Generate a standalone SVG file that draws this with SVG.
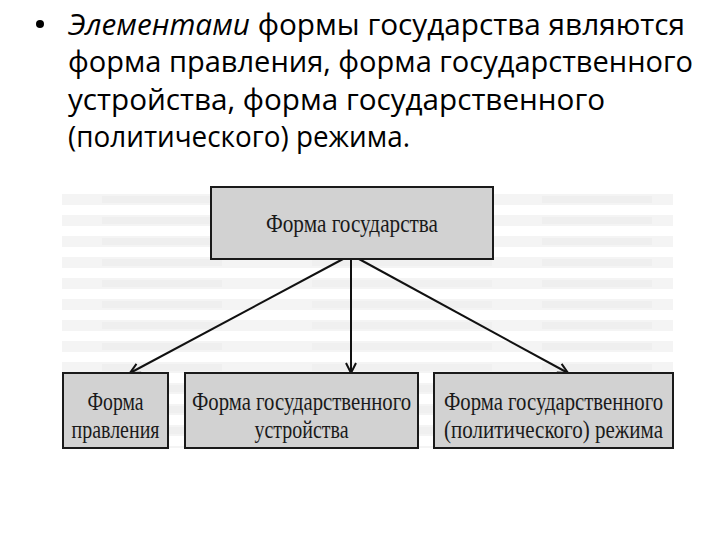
<svg xmlns="http://www.w3.org/2000/svg" width="720" height="540" viewBox="0 0 720 540">
  <defs>
    <pattern id="scan" x="62" y="190" width="611" height="21" patternUnits="userSpaceOnUse">
      <rect x="0" y="4" width="611" height="11" fill="#f4f4f4"/>
      <rect x="40" y="6" width="120" height="7" fill="#efefef"/>
      <rect x="250" y="6" width="180" height="7" fill="#f0f0f0"/>
      <rect x="480" y="6" width="110" height="7" fill="#efefef"/>
    </pattern>
    <marker id="arr" viewBox="0 0 12 12" refX="11" refY="6" markerWidth="12" markerHeight="12" markerUnits="userSpaceOnUse" orient="auto">
      <path d="M1,1 L11,6 L1,11" fill="none" stroke="#111" stroke-width="2"/>
    </marker>
    <style>
      .bul { font-family: "Open Sans", "Liberation Sans", sans-serif; font-size: 29px; fill: #000; }
      .box { fill: #d2d2d2; stroke: #1a1a1a; stroke-width: 2; }
      .lbl { font-family: "Liberation Serif", "DejaVu Serif", serif; font-size: 25px; fill: #1a1a1a; text-anchor: middle; }
      .con { stroke: #111; stroke-width: 2; fill: none; marker-end: url(#arr); }
    </style>
  </defs>
  <rect width="720" height="540" fill="#ffffff"/>

  <g id="bullet-text">
    <circle cx="40" cy="24" r="4" fill="#000"/>
    <text class="bul" x="68" y="35" textLength="617" lengthAdjust="spacingAndGlyphs"><tspan font-style="italic">Элементами</tspan> формы государства являются</text>
    <text class="bul" x="68" y="72" textLength="625" lengthAdjust="spacingAndGlyphs">форма правления, форма государственного</text>
    <text class="bul" x="68" y="110" textLength="537" lengthAdjust="spacingAndGlyphs">устройства, форма государственного</text>
    <text class="bul" x="68" y="147" textLength="342" lengthAdjust="spacingAndGlyphs">(политического) режима.</text>
  </g>

  <rect id="scan-background" x="62" y="187" width="611" height="261" fill="url(#scan)"/>

  <g id="connectors">
    <line class="con" x1="343" y1="259" x2="130" y2="373"/>
    <line class="con" x1="351" y1="259" x2="351" y2="373"/>
    <line class="con" x1="359" y1="259" x2="568" y2="373"/>
  </g>

  <g id="node-forma-gosudarstva">
    <rect class="box" x="211" y="187" width="282" height="72"/>
    <text class="lbl" x="352" y="232" font-size="26" textLength="172" lengthAdjust="spacingAndGlyphs">Форма государства</text>
  </g>

  <g id="node-forma-pravleniya">
    <rect class="box" x="63" y="373" width="105" height="75"/>
    <text class="lbl" x="115.5" y="410" textLength="56" lengthAdjust="spacingAndGlyphs">Форма</text>
    <text class="lbl" x="115.5" y="438" textLength="88" lengthAdjust="spacingAndGlyphs">правления</text>
  </g>

  <g id="node-forma-ustroystva">
    <rect class="box" x="185" y="373" width="233" height="75"/>
    <text class="lbl" x="301.5" y="410" textLength="219" lengthAdjust="spacingAndGlyphs">Форма государственного</text>
    <text class="lbl" x="301.5" y="438" textLength="94" lengthAdjust="spacingAndGlyphs">устройства</text>
  </g>

  <g id="node-forma-rezhima">
    <rect class="box" x="434" y="373" width="239" height="75"/>
    <text class="lbl" x="553.5" y="410" textLength="219" lengthAdjust="spacingAndGlyphs">Форма государственного</text>
    <text class="lbl" x="553.5" y="438" textLength="219" lengthAdjust="spacingAndGlyphs">(политического) режима</text>
  </g>
</svg>
